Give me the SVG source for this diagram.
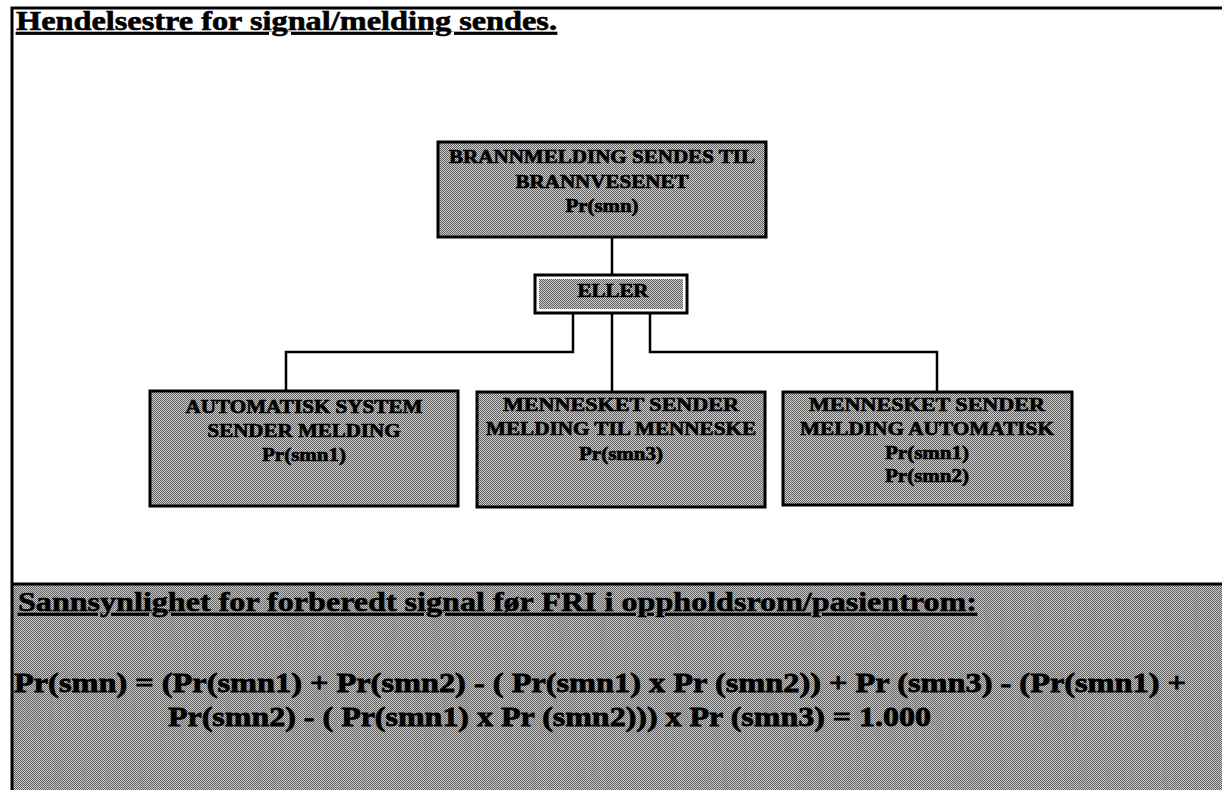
<svg xmlns="http://www.w3.org/2000/svg" width="1222" height="790" viewBox="0 0 1222 790">
  <defs>
    <!-- halftone grey used for the node fills and the lower panel -->
    <pattern id="dither" width="2" height="2" patternUnits="userSpaceOnUse">
      <rect width="2" height="2" fill="#cecece"/>
      <rect width="1" height="1" fill="#5f5f5f"/>
      <rect x="1" y="1" width="1" height="1" fill="#5f5f5f"/>
    </pattern>
    <!-- faint vertical streaks over the grey panel -->
    <filter id="streaks" x="0" y="0" width="100%" height="100%">
      <feTurbulence type="fractalNoise" baseFrequency="0.25 0.012" numOctaves="2" seed="7"/>
      <feColorMatrix type="matrix" values="0 0 0 0 0.25  0 0 0 0 0.25  0 0 0 0 0.25  0 0 0 -1.6 1.0"/>
    </filter>
    <style>
      .frame { fill: none; stroke: #000; stroke-width: 3; }
      .node { fill: url(#dither); stroke: #000; stroke-width: 3; }
      .wire { fill: none; stroke: #000; stroke-width: 2.5; }
      .lbl { font-family: "Liberation Serif", "Times New Roman", serif; font-weight: bold; font-size: 19px; text-anchor: middle; fill: #000; stroke: #000; stroke-width: 0.7px; }
      .head { font-family: "Liberation Serif", "Times New Roman", serif; font-weight: bold; font-size: 27px; fill: #000; text-decoration: underline; stroke: #000; stroke-width: 0.6px; }
      .eq { font-family: "Liberation Serif", "Times New Roman", serif; font-weight: bold; font-size: 28px; fill: #000; stroke: #000; stroke-width: 0.8px; }
    </style>
  </defs>

  <rect width="1222" height="790" fill="#fff"/>

  <!-- lower panel with the probability formula -->
  <rect x="13" y="584" width="1209" height="206" fill="url(#dither)"/>
  <rect x="13" y="584" width="1209" height="206" filter="url(#streaks)" opacity="0.5"/>

  <!-- outer frame lines -->
  <path class="frame" d="M12 790 V8 H1222"/>
  <path class="frame" d="M12 584 H1222"/>

  <text class="head" x="16" y="30" textLength="541" lengthAdjust="spacingAndGlyphs">Hendelsestre for signal/melding sendes.</text>

  <!-- connectors -->
  <g id="connectors">
    <path class="wire" d="M612 237 V275"/>
    <path class="wire" d="M612 313 V392"/>
    <path class="wire" d="M573 313 V352 H286 V391"/>
    <path class="wire" d="M650 313 V352 H937 V392"/>
  </g>

  <g id="top-event">
    <rect class="node" x="438" y="142" width="328" height="95"/>
    <text class="lbl" x="602" y="163" textLength="306" lengthAdjust="spacingAndGlyphs">BRANNMELDING SENDES TIL</text>
    <text class="lbl" x="602" y="188" textLength="173" lengthAdjust="spacingAndGlyphs">BRANNVESENET</text>
    <text class="lbl" x="602" y="212" textLength="73" lengthAdjust="spacingAndGlyphs">Pr(smn)</text>
  </g>

  <g id="or-gate">
    <rect x="535" y="275" width="152" height="38" fill="#fff" stroke="#000" stroke-width="3"/>
    <rect x="539" y="279" width="144" height="30" fill="url(#dither)"/>
    <text class="lbl" x="613" y="297" textLength="71" lengthAdjust="spacingAndGlyphs">ELLER</text>
  </g>

  <g id="auto-system">
    <rect class="node" x="150" y="391" width="308" height="115"/>
    <text class="lbl" x="304" y="413" textLength="237" lengthAdjust="spacingAndGlyphs">AUTOMATISK SYSTEM</text>
    <text class="lbl" x="304" y="437" textLength="193" lengthAdjust="spacingAndGlyphs">SENDER MELDING</text>
    <text class="lbl" x="304" y="461" textLength="84" lengthAdjust="spacingAndGlyphs">Pr(smn1)</text>
  </g>

  <g id="human-to-human">
    <rect class="node" x="477" y="392" width="288" height="115"/>
    <text class="lbl" x="621" y="411" textLength="236" lengthAdjust="spacingAndGlyphs">MENNESKET  SENDER</text>
    <text class="lbl" x="621" y="435" textLength="270" lengthAdjust="spacingAndGlyphs">MELDING TIL MENNESKE</text>
    <text class="lbl" x="621" y="460" textLength="84" lengthAdjust="spacingAndGlyphs">Pr(smn3)</text>
  </g>

  <g id="human-to-auto">
    <rect class="node" x="783" y="392" width="289" height="113"/>
    <text class="lbl" x="927" y="411" textLength="236" lengthAdjust="spacingAndGlyphs">MENNESKET  SENDER</text>
    <text class="lbl" x="927" y="435" textLength="254" lengthAdjust="spacingAndGlyphs">MELDING AUTOMATISK</text>
    <text class="lbl" x="927" y="459" textLength="84" lengthAdjust="spacingAndGlyphs">Pr(smn1)</text>
    <text class="lbl" x="927" y="482" textLength="84" lengthAdjust="spacingAndGlyphs">Pr(smn2)</text>
  </g>

  <text class="head" x="18" y="611" textLength="959" lengthAdjust="spacingAndGlyphs">Sannsynlighet for forberedt signal før FRI i oppholdsrom/pasientrom:</text>
  <text class="eq" x="14" y="692" textLength="1172" lengthAdjust="spacingAndGlyphs">Pr(smn) = (Pr(smn1) + Pr(smn2) - ( Pr(smn1) x Pr (smn2)) + Pr (smn3) - (Pr(smn1) +</text>
  <text class="eq" x="168" y="726" textLength="763" lengthAdjust="spacingAndGlyphs">Pr(smn2) - ( Pr(smn1) x Pr (smn2))) x Pr (smn3) = 1.000</text>
</svg>
